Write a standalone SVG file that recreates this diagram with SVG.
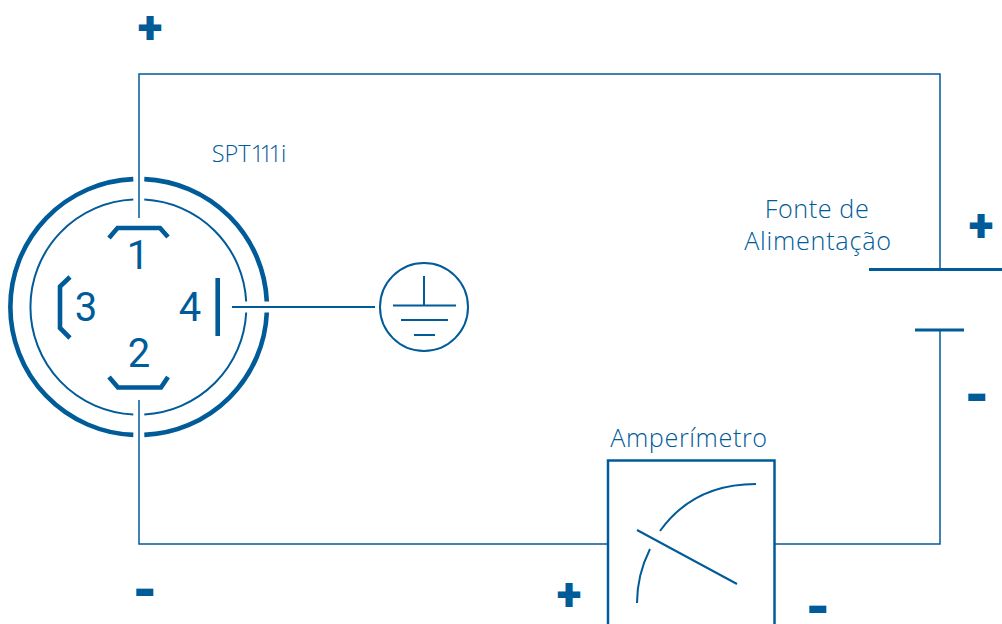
<svg xmlns="http://www.w3.org/2000/svg" width="1002" height="624" viewBox="0 0 1002 624">
<style>
.w{fill:none;stroke:#005b99;stroke-width:1.5}
.p{fill:none;stroke:#005b99;stroke-width:4.6}
.m{fill:none;stroke:#005b99;stroke-width:2}
.t{font-family:"Open Sans","Noto Sans",sans-serif;font-weight:300;font-size:25.2px;letter-spacing:.6px;fill:#005b99;text-anchor:middle}
.d{font-family:Roboto,sans-serif;font-size:40px;fill:#005b99;text-anchor:middle}
.s{font-family:Roboto,sans-serif;font-weight:900;fill:#005b99;text-anchor:middle}
.plus{font-size:46px}
.minus{font-size:58px}
</style>
<rect width="1002" height="624" fill="#fff"/>
<g id="connectors">
<path class="w" d="M139 218V74H940V269"/>
<path class="w" d="M940 329V544H775"/>
<path class="w" d="M607 544H139V400"/>
<path class="m" d="M232 307H375"/>
</g>
<g id="connector-plug">
<path class="p" d="M133.300 179.100A128 128 0 0 0 133.300 434.900"/>
<path class="p" d="M144.300 179.100A128 128 0 0 1 266.800 301.500"/>
<path class="p" d="M266.800 312.500A128 128 0 0 1 144.300 434.900"/>
<path class="m" d="M133.300 199.600A107.500 107.500 0 0 0 133.300 414.400"/>
<path class="m" d="M144.300 199.600A107.500 107.500 0 0 1 246.200 301.500"/>
<path class="m" d="M246.200 312.500A107.500 107.500 0 0 1 144.300 414.400"/>
<path class="p" d="M109 238L117.500 228H160L168 237"/>
<path class="p" d="M109 377L118 387.500H161L168 377"/>
<path class="p" d="M70 277L60 286.500V328L70 338"/>
<path class="p" d="M217.700 278V336"/>
<text class="d" x="138" y="269">1</text>
<text class="d" x="139" y="367">2</text>
<text class="d" x="86" y="321">3</text>
<text class="d" x="190" y="321">4</text>
</g>
<g id="label-spt"><text class="t" x="249" y="162" style="font-size:23.5px;letter-spacing:0"><tspan>SPT</tspan><tspan letter-spacing="-4.500">111</tspan><tspan dx="3.500">i</tspan></text></g>
<g id="ground">
<circle cx="424" cy="307" r="44" class="m"/>
<path class="m" d="M424 276V305M393 305.500H456M401 320H448M414 335H435"/>
</g>
<g id="source">
<path class="p" style="stroke-width:3" d="M869 269.500H1002M915 330H964"/>
<text class="t" x="817" y="218">Fonte de</text>
<text class="t" x="818" y="250" style="letter-spacing:.75px">Alimentação</text>
</g>
<g id="ammeter">
<rect x="608" y="460.500" width="166.500" height="170" class="m" style="stroke-width:2.500"/>
<path class="m" d="M637 530L737 584M660 531C680 503 710 484 756 484M650 549C642 565 637 585 637 603"/>
<text class="t" x="689" y="447">Amperímetro</text>
</g>
<g id="signs">
<text class="s plus" x="150" y="43">+</text>
<text class="s plus" x="981" y="241">+</text>
<text class="s plus" x="569" y="610">+</text>
<text class="s minus" x="145" y="610">-</text>
<text class="s minus" x="977" y="415">-</text>
<text class="s minus" x="818" y="627">-</text>
</g>
</svg>
